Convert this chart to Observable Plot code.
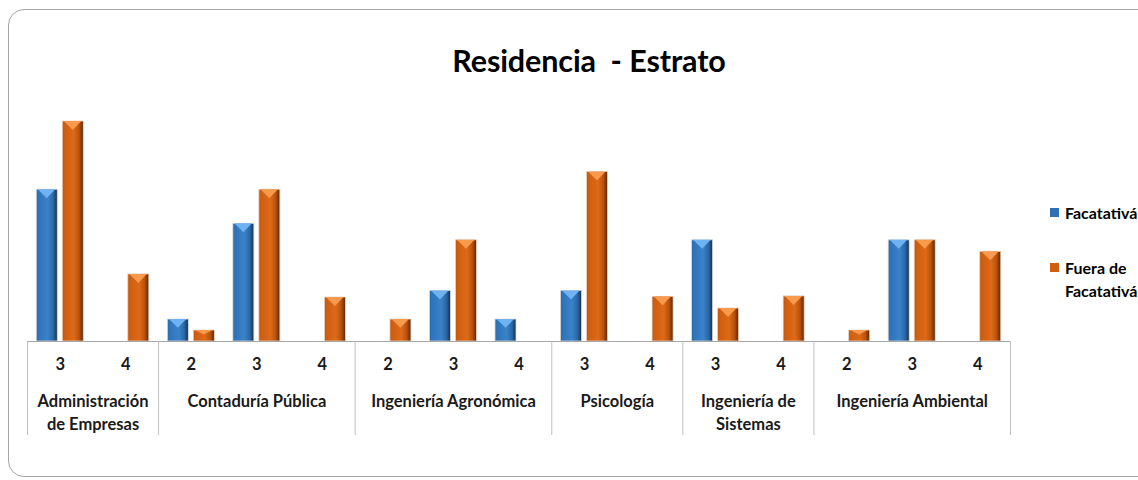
<!DOCTYPE html>
<html>
<head>
<meta charset="utf-8">
<script src="https://cdn.jsdelivr.net/npm/d3@7"></script>
<script src="https://cdn.jsdelivr.net/npm/@observablehq/plot@0.6"></script>
<style>
  html, body { margin: 0; padding: 0; background: #fff; }
  #wrap { position: relative; width: 1138px; height: 480px; overflow: hidden; font-family: Lato, "Open Sans", sans-serif; }
  #frame { position: absolute; left: 8px; top: 9px; width: 1160px; height: 468px; border: 1px solid #a6a6a6; border-radius: 16px; box-sizing: border-box; }
  #title { position: absolute; left: 0; width: 1178px; top: 42px; text-align: center; font-weight: 700; font-size: 30.5px; color: #000; letter-spacing: -0.1px; white-space: pre; }
  #chart { position: absolute; left: 0; top: 0; }
  #legend { position: absolute; left: 1050px; top: 201px; font-weight: 700; font-size: 16px; color: #000; line-height: 23px; }
  .li { position: relative; padding-left: 15px; white-space: nowrap; }
  .sw { position: absolute; left: 0; top: 7px; width: 9px; height: 9px; }
</style>
</head>
<body>
<div id="wrap">
  <div id="frame"></div>
  <div id="title"></div>
  <div id="chart"></div>
  <div id="legend"></div>
</div>
<script>
// ---- data ----
const programs = ["Administración\nde Empresas", "Contaduría Pública", "Ingeniería Agronómica", "Psicología", "Ingeniería de\nSistemas", "Ingeniería Ambiental"];
const estratos = [["3","4"], ["2","3","4"], ["2","3","4"], ["3","4"], ["3","4"], ["2","3","4"]];
const seriesNames = ["Facatativá", "Fuera de\nFacatativá"];
const facatativa = [[13.8, 0], [2, 10.7, 0], [0, 4.6, 2], [4.6, 0], [9.2, 0], [0, 9.2, 0]];
const fuera      = [[20, 6.1], [1, 13.8, 4], [2, 9.2, 0], [15.4, 4.06], [3, 4.1], [1, 9.2, 8.15]];
const titleText = "Residencia  - Estrato";

// ---- build tables ----
const cats = [];
const groups = [];
let idx = 0;
programs.forEach((p, g) => {
  const start = idx;
  estratos[g].forEach((e, k) => {
    cats.push({i: idx, program: p, estrato: e, fac: facatativa[g][k], fue: fuera[g][k]});
    idx++;
  });
  groups.push({program: p, start, end: idx, mid: (start + idx) / 2});
});
const n = cats.length;
const bounds = [0, ...groups.map(d => d.end)];

// ---- layout ----
const W = 1138, H = 480;
const mL = 27, mR = 128, mT = 121, mB = 139;
const yMax = 20;
const step = (W - mL - mR) / n;
const pxPerUnit = (H - mT - mB) / yMax;
const sepDepth = -94 / pxPerUnit;
const barW = 21, gap = 5;
const outer = (step - 2 * barW - gap) / 2;

const facBars = cats.filter(d => d.fac > 0);
const fueBars = cats.filter(d => d.fue > 0);

// bevel triangles (top facet of each bar), derived from the same values
function bevel(bars, key, leftPx) {
  const pts = [];
  bars.forEach(d => {
    const v = d[key];
    const hPx = Math.min(9, v * pxPerUnit * 0.4);
    const h = hPx / pxPerUnit;
    const x0 = d.i + (leftPx + 1.5) / step, x1 = d.i + (leftPx + barW - 2) / step, xc = d.i + (leftPx + barW / 2) / step;
    const z = d.i;
    pts.push({x: x0, y1: v, y2: v, z}, {x: xc, y1: v, y2: v - h, z}, {x: x1, y1: v, y2: v, z});
  });
  return pts;
}

const chart = Plot.plot({
  width: W, height: H,
  marginLeft: mL, marginRight: mR, marginTop: mT, marginBottom: mB,
  x: {type: "linear", domain: [0, n], axis: null},
  y: {type: "linear", domain: [0, yMax], axis: null},
  style: {fontFamily: "Lato, 'Open Sans', sans-serif", overflow: "visible"},
  marks: [
    Plot.rectY(facBars, {x1: "i", x2: d => d.i + 1, y1: () => 0, y2: "fac",
      insetLeft: outer, insetRight: step - outer - barW, fill: "url(#gBlue)", stroke: "#d9d9d9", strokeWidth: 0.8}),
    Plot.rectY(fueBars, {x1: "i", x2: d => d.i + 1, y1: () => 0, y2: "fue",
      insetLeft: outer + barW + gap, insetRight: outer, fill: "url(#gOrange)", stroke: "#e6d3c6", strokeWidth: 0.8}),
    Plot.areaY(bevel(facBars, "fac", outer), {x: "x", y1: "y1", y2: "y2", z: "z", fill: "#6fb2f2", fillOpacity: 1, curve: "linear"}),
    Plot.areaY(bevel(fueBars, "fue", outer + barW + gap), {x: "x", y1: "y1", y2: "y2", z: "z", fill: "#f79a4e", fillOpacity: 1, curve: "linear"}),
    // baseline
    Plot.ruleY([0], {stroke: "#a6a6a6", strokeWidth: 1}),
    // group separators
    Plot.ruleX(bounds, {x: d => d, y1: () => 0, y2: () => sepDepth, stroke: "#bfbfbf", strokeWidth: 1}),
    // estrato labels
    Plot.text(cats, {x: d => d.i + 0.5, y: () => 0, text: "estrato", dy: 23, fontWeight: 700, fontSize: 16.5, fill: "#1a1a1a"}),
    // program labels
    Plot.text(groups, {x: "mid", y: () => 0, text: "program", dy: 49, lineAnchor: "top", lineHeight: 1.4, fontWeight: 700, fontSize: 16.5, fill: "#1a1a1a"})
  ]
});

// gradients
const svg = d3.select(chart);
const defs = svg.insert("defs", ":first-child");
function grad(id, stops) {
  const g = defs.append("linearGradient").attr("id", id).attr("x1", "0").attr("x2", "1").attr("y1", "0").attr("y2", "0");
  stops.forEach(([o, c]) => g.append("stop").attr("offset", o).attr("stop-color", c));
}
grad("gBlue", [[0, "#2a6aab"], [0.12, "#2f74bb"], [0.55, "#3a82c9"], [0.8, "#2b68a6"], [1, "#153050"]]);
grad("gOrange", [[0, "#c2560e"], [0.12, "#cf5e10"], [0.55, "#dd6a18"], [0.8, "#b9520c"], [1, "#5a2604"]]);

document.getElementById("chart").appendChild(chart);
document.getElementById("title").textContent = titleText;

// legend
const leg = document.getElementById("legend");
const legColors = ["#2f6fb3", "#d0600f"];
seriesNames.forEach((s, k) => {
  const div = document.createElement("div");
  div.className = "li";
  div.style.marginBottom = k === 0 ? "32px" : "0";
  const sw = document.createElement("span");
  sw.className = "sw";
  sw.style.background = legColors[k];
  div.appendChild(sw);
  s.split("\n").forEach((line, j) => {
    if (j) div.appendChild(document.createElement("br"));
    div.appendChild(document.createTextNode(line));
  });
  leg.appendChild(div);
});
</script>
</body>
</html>
